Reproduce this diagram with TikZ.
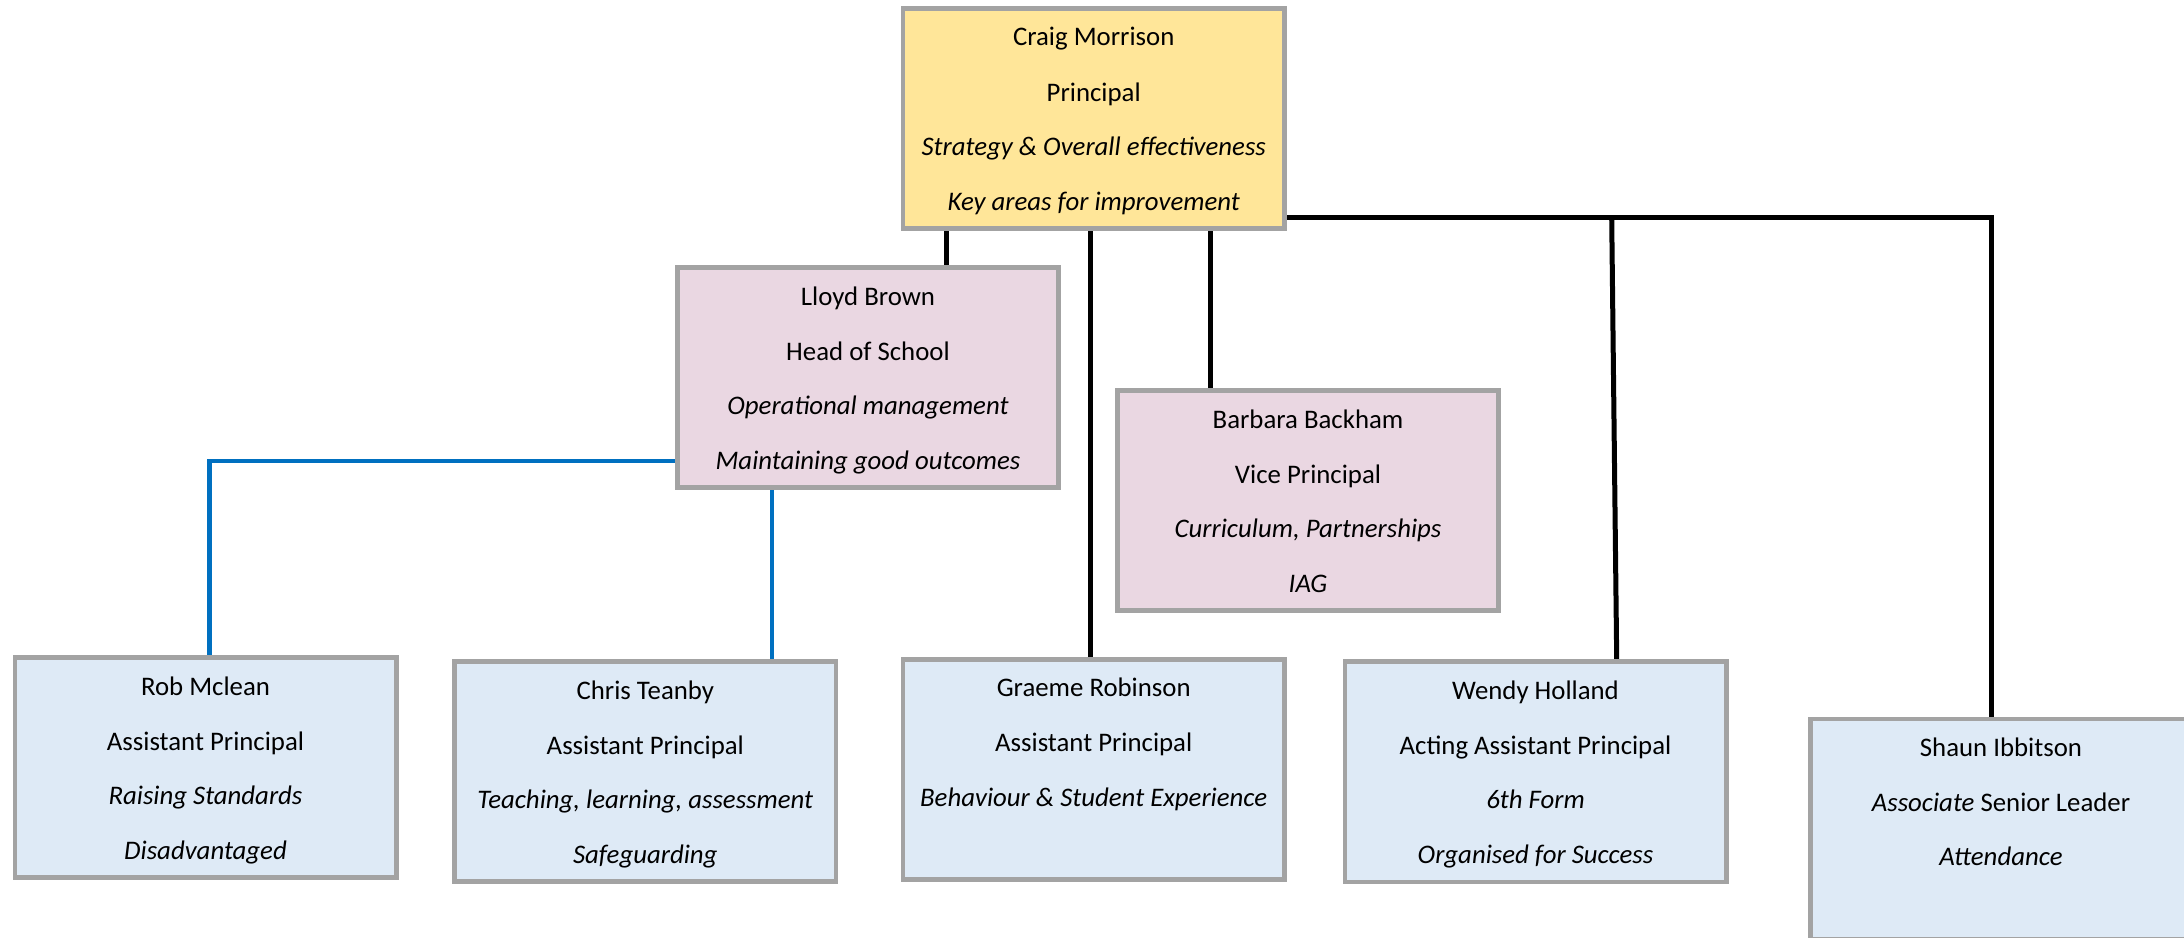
\documentclass[tikz,border=0pt]{standalone}
\usepackage{fontspec}
\setmainfont{Carlito}
\usetikzlibrary{calc,backgrounds}
\definecolor{boxgray}{HTML}{A3A3A3}
\definecolor{yellowfill}{HTML}{FFE699}
\definecolor{pinkfill}{HTML}{EAD7E2}
\definecolor{bluefill}{HTML}{DEEAF6}
\definecolor{blueline}{HTML}{0070C0}
\newcommand\orgline[3]{\node[txt] at ($(#1.center)+(0,#2)$) {#3};}
\begin{document}
\begin{tikzpicture}[x=0.5pt,y=-0.5pt,
  orgbox/.style={draw=boxgray,line width=2.35pt,rectangle,minimum width=190.65pt,minimum height=110.15pt,inner sep=0pt},
  txt/.style={anchor=base,inner sep=0pt,font=\fontsize{13.4}{16}\selectfont},
  blk/.style={line width=2.5pt,draw=black},
  blu/.style={line width=2.1pt,draw=blueline}]
\useasboundingbox (0,0) rectangle (2184,937);
\node[orgbox,fill=yellowfill] (craig) at (1093.7,118.5) {};
\node[orgbox,fill=pinkfill] (lloyd) at (868,377.5) {};
\node[orgbox,fill=pinkfill] (barbara) at (1308,500.5) {};
\node[orgbox,fill=bluefill] (rob) at (205.5,767.5) {};
\node[orgbox,fill=bluefill] (chris) at (645.3,771.5) {};
\node[orgbox,fill=bluefill] (graeme) at (1093.7,769.3) {};
\node[orgbox,fill=bluefill] (wendy) at (1535.5,771.7) {};
\node[orgbox,fill=bluefill] (shaun) at (2001,829.2) {};
\coordinate (xl) at (946.7,0);
\coordinate (xg) at (1090,0);
\coordinate (xb) at (1210.5,0);
\coordinate (hy) at (0,217.7);
\coordinate (wtop) at (1611.7,217.7);
\coordinate (wbot) at (1616.7,0);
\coordinate (stop) at (1991,217.7);
\coordinate (by) at (0,461);
\coordinate (xr) at (209.5,0);
\coordinate (xc) at (771.7,0);
\begin{scope}[on background layer]
\draw[blk] (craig.south -| xl) -- (lloyd.north -| xl);
\draw[blk] (craig.south -| xg) -- (graeme.north -| xg);
\draw[blk] (craig.south -| xb) -- (barbara.north -| xb);
\draw[blk] (craig.east |- hy) -- (stop) -- (shaun.north -| stop);
\draw[blk] (wtop) -- (wendy.north -| wbot);
\draw[blu] (lloyd.west |- by) -- (xr |- by) -- (rob.north -| xr);
\draw[blu] (lloyd.south -| xc) -- (chris.north -| xc);
\end{scope}
\orgline{craig}{-72.5}{Craig Morrison}
\orgline{craig}{-17.5}{Principal}
\orgline{craig}{37}{\itshape Strategy \& Overall effectiveness}
\orgline{craig}{91.5}{\itshape Key areas for improvement}
\orgline{lloyd}{-72.5}{Lloyd Brown}
\orgline{lloyd}{-17.5}{Head of School}
\orgline{lloyd}{37}{\itshape Operational management}
\orgline{lloyd}{91.5}{\itshape Maintaining good outcomes}
\orgline{barbara}{-72.5}{Barbara Backham}
\orgline{barbara}{-17.5}{Vice Principal}
\orgline{barbara}{37}{\itshape Curriculum, Partnerships}
\orgline{barbara}{91.5}{\itshape IAG}
\orgline{rob}{-72.5}{Rob Mclean}
\orgline{rob}{-17.5}{Assistant Principal}
\orgline{rob}{37}{\itshape Raising Standards}
\orgline{rob}{91.5}{\itshape Disadvantaged}
\orgline{chris}{-72.5}{Chris Teanby}
\orgline{chris}{-17.5}{Assistant Principal}
\orgline{chris}{37}{\itshape Teaching, learning, assessment}
\orgline{chris}{91.5}{\itshape Safeguarding}
\orgline{graeme}{-72.5}{Graeme Robinson}
\orgline{graeme}{-17.5}{Assistant Principal}
\orgline{graeme}{37}{\itshape Behaviour \& Student Experience}
\orgline{wendy}{-72.5}{Wendy Holland}
\orgline{wendy}{-17.5}{Acting Assistant Principal}
\orgline{wendy}{37}{\itshape 6th Form}
\orgline{wendy}{91.5}{\itshape Organised for Success}
\orgline{shaun}{-72.5}{Shaun Ibbitson}
\orgline{shaun}{-17.5}{\textit{Associate} Senior Leader}
\orgline{shaun}{36}{\itshape Attendance}
\end{tikzpicture}
\end{document}
